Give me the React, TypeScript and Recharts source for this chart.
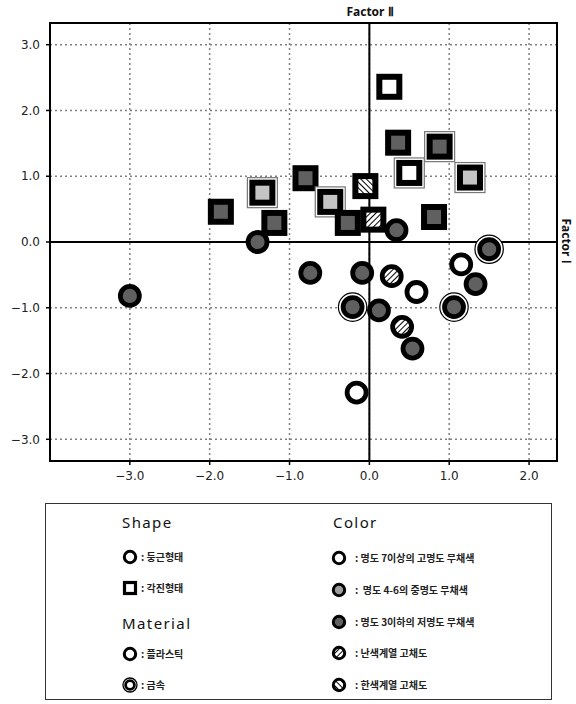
import React from 'react';
import {
  CartesianGrid,
  ReferenceArea,
  ReferenceLine,
  Scatter,
  ScatterChart,
  XAxis,
  YAxis,
} from 'recharts';

// Factor I (horizontal) / Factor II (vertical) scores per sample
const FACTOR_I = [
  -1.86, -1.34, -1.19, 0.25, 0.36, 0.88, 0.5, 1.26, -0.8, -0.49, -0.05, -0.27, 0.05, 0.81,
  -1.4, 0.34, 1.5, 1.15, 1.33, 1.06, -0.74, -0.09, 0.28, 0.59, -0.21, 0.12, 0.41, 0.54, -0.16, -3.0,
];
const FACTOR_II = [
  0.46, 0.75, 0.29, 2.36, 1.51, 1.45, 1.05, 0.98, 0.97, 0.61, 0.85, 0.29, 0.34, 0.38,
  0.0, 0.18, -0.11, -0.34, -0.64, -0.99, -0.47, -0.47, -0.52, -0.76, -0.99, -1.04, -1.29, -1.62, -2.29, -0.82,
];
const SHAPES = [
  'angular', 'angular', 'angular', 'angular', 'angular', 'angular', 'angular',
  'angular', 'angular', 'angular', 'angular', 'angular', 'angular', 'angular',
  'round', 'round', 'round', 'round', 'round', 'round', 'round', 'round',
  'round', 'round', 'round', 'round', 'round', 'round', 'round', 'round',
];
const MATERIALS = [
  'plastic', 'metal', 'plastic', 'plastic', 'plastic', 'metal', 'metal',
  'metal', 'plastic', 'metal', 'plastic', 'plastic', 'plastic', 'plastic',
  'plastic', 'plastic', 'metal', 'plastic', 'plastic', 'metal', 'plastic', 'plastic',
  'plastic', 'plastic', 'metal', 'plastic', 'plastic', 'plastic', 'plastic', 'plastic',
];
const TONES = [
  'dark', 'light', 'dark', 'white', 'dark', 'dark', 'white',
  'light', 'dark', 'light', 'cool', 'dark', 'warm', 'dark',
  'dark', 'dark', 'dark', 'white', 'dark', 'dark', 'dark', 'dark',
  'warm', 'white', 'dark', 'dark', 'warm', 'dark', 'white', 'dark',
];

const X_TICKS = [-3, -2, -1, 0, 1, 2];
const Y_TICKS = [-3, -2, -1, 0, 1, 2, 3];
const X_DOMAIN: [number, number] = [-4, 2.35];
const Y_DOMAIN: [number, number] = [-3.33, 3.33];

const SHAPE_LEGEND = ['둥근형태', '각진형태'];
const MATERIAL_LEGEND = ['플라스틱', '금속'];
const COLOR_LEGEND = [
  '명도 7이상의 고명도 무채색',
  ' 명도 4-6의 중명도 무채색',
  '명도 3이하의 저명도 무채색',
  '난색계열 고채도',
  '한색계열 고채도',
];
const COLOR_LEGEND_TONES = ['white', 'mid', 'dark', 'warm', 'cool'];

const FILLS: Record<string, string> = {
  white: '#ffffff',
  light: '#c4c4c4',
  mid: '#9d9d9d',
  dark: '#606060',
  warm: 'url(#hatchWarm)',
  cool: 'url(#hatchCool)',
};

const points = FACTOR_I.map((x, i) => ({
  x,
  y: FACTOR_II[i],
  shape: SHAPES[i],
  material: MATERIALS[i],
  tone: TONES[i],
}));

const fmt = (v: number) => (v < 0 ? '\u2212' : '') + Math.abs(v).toFixed(1);

const Marker = (props: any) => {
  const { cx, cy, payload } = props;
  if (cx == null || cy == null) return null;
  const fill = FILLS[payload.tone];
  const metal = payload.material === 'metal';
  if (payload.shape === 'angular') {
    return (
      <g>
        {metal && (
          <rect x={cx - 15} y={cy - 15} width={30} height={30} fill='#fff' stroke='#777' strokeWidth={1.2} />
        )}
        <rect x={cx - 10} y={cy - 10} width={20} height={20} fill={fill} stroke='#000' strokeWidth={6} />
      </g>
    );
  }
  return (
    <g>
      {metal && <circle cx={cx} cy={cy} r={14.2} fill='#fff' stroke='#000' strokeWidth={1.2} />}
      <circle cx={cx} cy={cy} r={9.5} fill={fill} stroke='#000' strokeWidth={4.8} />
    </g>
  );
};

const Patterns = () => (
  <svg width={0} height={0} style={{ position: 'absolute' }}>
    <defs>
      <pattern id='hatchWarm' patternUnits='userSpaceOnUse' width={4} height={4} patternTransform='rotate(45)'>
        <rect width={4} height={4} fill='#fff' />
        <line x1={0} y1={0} x2={0} y2={4} stroke='#000' strokeWidth={2} />
      </pattern>
      <pattern id='hatchCool' patternUnits='userSpaceOnUse' width={4} height={4} patternTransform='rotate(-45)'>
        <rect width={4} height={4} fill='#fff' />
        <line x1={0} y1={0} x2={0} y2={4} stroke='#000' strokeWidth={2} />
      </pattern>
    </defs>
  </svg>
);

const LegendIcon = ({ kind, tone = 'white', metal = false }: { kind: string; tone?: string; metal?: boolean }) => (
  <svg width={16} height={16} style={{ display: 'block' }}>
    {kind === 'square' ? (
      <rect x={2.5} y={2.5} width={11} height={11} fill='#fff' stroke='#000' strokeWidth={3.2} />
    ) : metal ? (
      <g>
        <circle cx={8} cy={8} r={7} fill='#fff' stroke='#000' strokeWidth={1.3} />
        <circle cx={8} cy={8} r={4.4} fill='#fff' stroke='#000' strokeWidth={2.8} />
      </g>
    ) : (
      <circle cx={8} cy={8} r={5.7} fill={FILLS[tone]} stroke='#000' strokeWidth={3} />
    )}
  </svg>
);

const at = (left: number, top: number): React.CSSProperties => ({
  position: 'absolute',
  left,
  top,
  transform: 'translateY(-50%)',
  lineHeight: 1,
  whiteSpace: 'pre',
});

const headStyle: React.CSSProperties = {
  fontFamily: '"Noto Sans", sans-serif',
  fontSize: 15,
  letterSpacing: 1.4,
  color: '#111',
};
const itemStyle: React.CSSProperties = {
  fontFamily: '"Noto Sans CJK KR", sans-serif',
  fontSize: 10,
  fontWeight: 700,
  color: '#222',
};
const titleStyle: React.CSSProperties = {
  position: 'absolute',
  fontFamily: '"Noto Sans", sans-serif',
  fontSize: 12,
  fontWeight: 700,
  whiteSpace: 'nowrap',
  lineHeight: 1,
  color: '#111',
};

const Item = ({ x, y, textX, label, icon }: { x: number; y: number; textX: number; label: string; icon: React.ReactNode }) => (
  <>
    <div style={{ ...at(x - 8, y) }}>{icon}</div>
    <div style={{ ...at(textX, y), ...itemStyle }}>{': ' + label}</div>
  </>
);

export default function App() {
  return (
    <div style={{ position: 'absolute', left: 0, top: 0, width: 576, height: 704, background: '#fff' }}>
      <Patterns />
      <ScatterChart width={576} height={500} margin={{ top: 23, right: 19, bottom: 9, left: 0 }}>
        <CartesianGrid strokeDasharray='2 3' stroke='#808080' strokeWidth={1.5} />
        <XAxis
          type='number'
          dataKey='x'
          domain={X_DOMAIN}
          ticks={X_TICKS}
          allowDataOverflow
          height={30}
          tickFormatter={fmt}
          tickSize={4}
          tickMargin={6}
          tick={{ fontSize: 12, fill: '#222', fontFamily: '"DejaVu Sans", sans-serif' }}
          axisLine={{ stroke: '#000', strokeWidth: 2 }}
          tickLine={{ stroke: '#000', strokeWidth: 1.5 }}
        />
        <YAxis
          type='number'
          dataKey='y'
          domain={Y_DOMAIN}
          ticks={Y_TICKS}
          allowDataOverflow
          width={50}
          tickFormatter={fmt}
          tickSize={4}
          tickMargin={6}
          tick={{ fontSize: 12, fill: '#222', fontFamily: '"DejaVu Sans", sans-serif' }}
          axisLine={{ stroke: '#000', strokeWidth: 2 }}
          tickLine={{ stroke: '#000', strokeWidth: 1.5 }}
        />
        <ReferenceArea
          x1={X_DOMAIN[0]}
          x2={X_DOMAIN[1]}
          y1={Y_DOMAIN[0]}
          y2={Y_DOMAIN[1]}
          fill='none'
          fillOpacity={0}
          stroke='#000'
          strokeWidth={2}
        />
        <ReferenceLine x={0} stroke='#000' strokeWidth={2} />
        <ReferenceLine y={0} stroke='#000' strokeWidth={2} />
        <Scatter data={points} shape={<Marker />} isAnimationActive={false} />
      </ScatterChart>

      <div style={{ ...titleStyle, left: 370, top: 12, transform: 'translate(-50%, -50%)' }}>Factor Ⅱ</div>
      <div
        style={{
          ...titleStyle,
          left: 566,
          top: 241,
          transform: 'translate(-50%, -50%)',
          writingMode: 'vertical-rl',
          textOrientation: 'sideways',
        }}
      >
        Factor Ⅰ
      </div>

      <div
        style={{
          position: 'absolute',
          left: 45,
          top: 503,
          width: 507,
          height: 197,
          border: '1px solid #333',
          boxSizing: 'border-box',
        }}
      />
      <div style={{ ...at(122, 522), ...headStyle }}>Shape</div>
      <Item x={130} y={557} textX={141} label={SHAPE_LEGEND[0]} icon={<LegendIcon kind='circle' />} />
      <Item x={130} y={588} textX={141} label={SHAPE_LEGEND[1]} icon={<LegendIcon kind='square' />} />
      <div style={{ ...at(122, 623), ...headStyle }}>Material</div>
      <Item x={130} y={654} textX={141} label={MATERIAL_LEGEND[0]} icon={<LegendIcon kind='circle' />} />
      <Item x={130} y={685} textX={141} label={MATERIAL_LEGEND[1]} icon={<LegendIcon kind='circle' metal />} />

      <div style={{ ...at(333, 522), ...headStyle }}>Color</div>
      {COLOR_LEGEND.map((label, i) => (
        <Item
          key={label}
          x={339}
          y={558 + i * 31.8}
          textX={355}
          label={label}
          icon={<LegendIcon kind='circle' tone={COLOR_LEGEND_TONES[i]} />}
        />
      ))}
    </div>
  );
}
